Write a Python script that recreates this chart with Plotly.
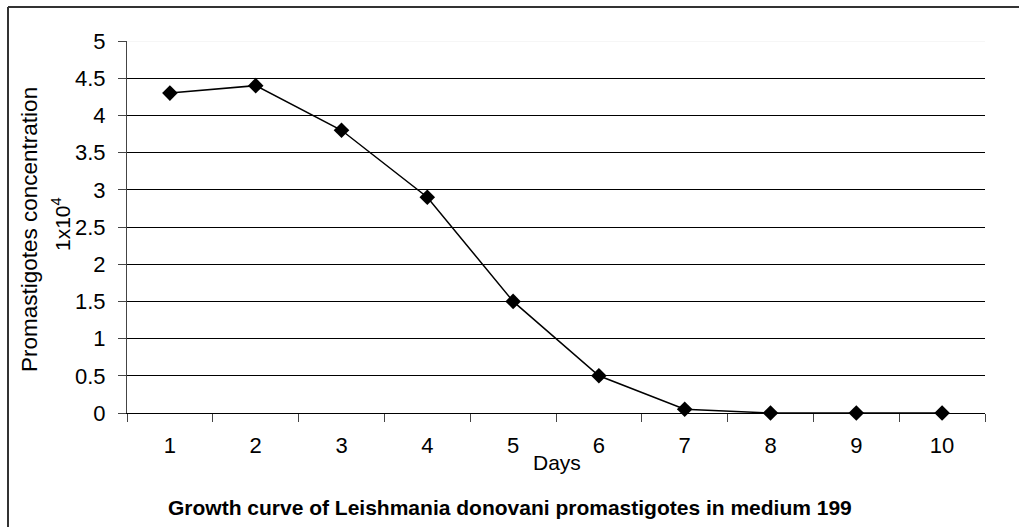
import plotly.graph_objects as go

days = [1, 2, 3, 4, 5, 6, 7, 8, 9, 10]
concentration = [4.3, 4.4, 3.8, 2.9, 1.5, 0.5, 0.05, 0.0, 0.0, 0.0]
y_ticks = [0, 0.5, 1, 1.5, 2, 2.5, 3, 3.5, 4, 4.5, 5]
y_ticktext = ["0", "0.5", "1", "1.5", "2", "2.5", "3", "3.5", "4", "4.5", "5"]
x_title = "Days"
y_title_1 = "Promastigotes concentration"
y_title_2 = "1x10<sup>4</sup>"
chart_title = "Growth curve of Leishmania donovani promastigotes in medium 199"

W, H = 1019, 527
L, R, T, B = 127, 34, 41, 114
PW, PH = W - L - R, H - T - B


def px_x(p):
    return (p - L) / PW


def px_y(p):
    return (H - B - p) / PH


FONT = "Liberation Sans, Arial, sans-serif"

fig = go.Figure()
fig.add_trace(go.Scatter(
    x=days, y=concentration, mode="lines+markers",
    line=dict(color="black", width=1.5),
    marker=dict(symbol="diamond", size=12, color="black"),
    showlegend=False, cliponaxis=False,
))

boundaries = [d - 0.5 for d in days] + [days[-1] + 0.5]

fig.update_layout(
    width=W, height=H,
    margin=dict(l=L, r=R, t=T, b=B),
    paper_bgcolor="white", plot_bgcolor="white",
    font=dict(family=FONT, size=21, color="black"),
    xaxis=dict(
        range=[days[0] - 0.5, days[-1] + 0.5],
        tickmode="array", tickvals=days, ticktext=[str(d) for d in days],
        ticks="", showgrid=False, zeroline=False,
        showline=True, linecolor="black", linewidth=1,
        ticklabelstandoff=13,
        tickfont=dict(size=22),
        minor=dict(tickmode="array", tickvals=boundaries, ticks="outside",
                   ticklen=8, tickcolor="#444", tickwidth=1, showgrid=False),
    ),
    yaxis=dict(
        range=[0, 5], tickmode="array", tickvals=y_ticks, ticktext=y_ticktext,
        ticks="outside", ticklen=8, tickcolor="#444",
        showgrid=True, gridcolor="black", gridwidth=1,
        zeroline=False, showline=True, linecolor="#444", linewidth=1,
        ticklabelstandoff=8,
        tickfont=dict(size=22),
    ),
    annotations=[
        dict(text=y_title_1, xref="paper", yref="paper", x=px_x(29), y=px_y(230),
             showarrow=False, textangle=-90, font=dict(size=22.5), xanchor="center", yanchor="middle"),
        dict(text=y_title_2, xref="paper", yref="paper", x=px_x(61), y=px_y(224),
             showarrow=False, textangle=-90, font=dict(size=21), xanchor="center", yanchor="middle"),
        dict(text=x_title, xref="paper", yref="paper", x=px_x(557), y=px_y(462),
             showarrow=False, font=dict(size=21), xanchor="center", yanchor="middle"),
        dict(text="<b>" + chart_title + "</b>", xref="paper", yref="paper", x=px_x(510), y=px_y(507),
             showarrow=False, font=dict(size=21), xanchor="center", yanchor="middle"),
    ],
    shapes=[
        dict(type="line", xref="paper", yref="y", x0=0, x1=1, y0=5, y1=5,
             line=dict(color="#eeeeee", width=1), layer="above"),
        dict(type="line", xref="paper", yref="paper", x0=px_x(8), x1=px_x(W + 5),
             y0=px_y(7), y1=px_y(7), line=dict(color="#333", width=2)),
        dict(type="line", xref="paper", yref="paper", x0=px_x(8), x1=px_x(8),
             y0=px_y(7), y1=px_y(H + 5), line=dict(color="#333", width=2)),
    ],
)

fig.write_html(
    "out.html",
    config={"displayModeBar": False},
    post_script="document.body.style.margin='0';document.body.style.overflow='hidden';",
)
